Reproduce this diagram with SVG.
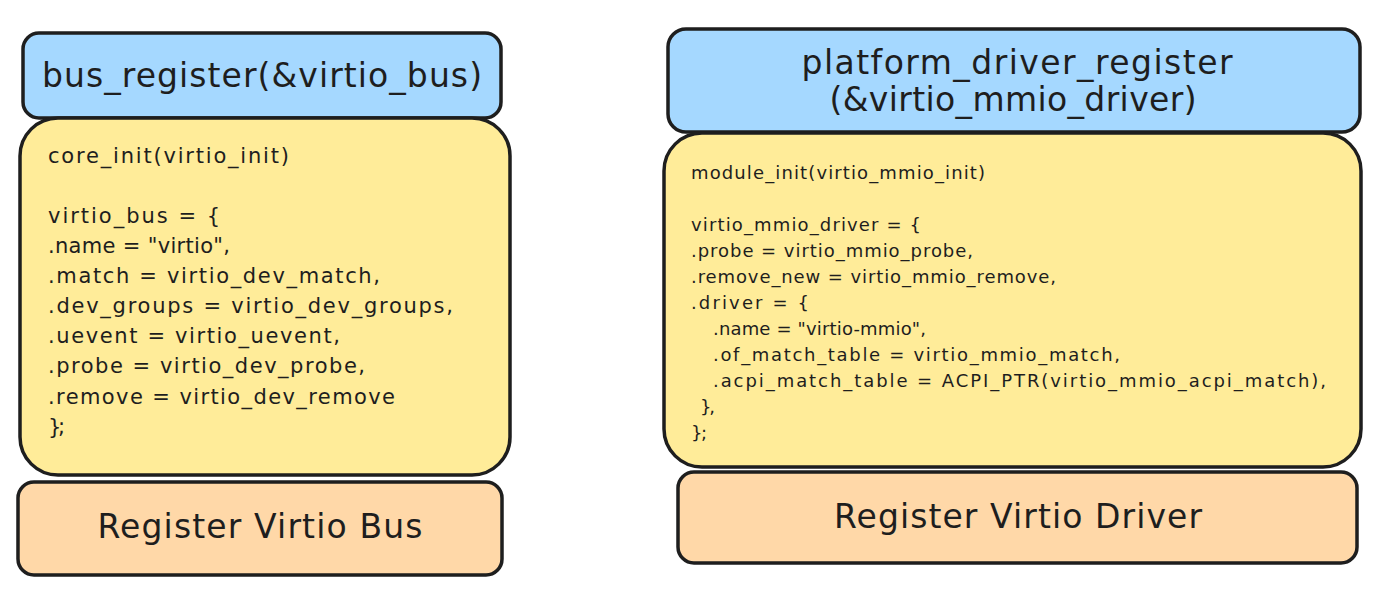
<svg xmlns="http://www.w3.org/2000/svg" width="1380" height="595" viewBox="0 0 1380 595">
<style>
.box{stroke:#1e1e1e;stroke-width:3.5;stroke-linejoin:round}
.blue{fill:#a5d8ff}
.yellow{fill:#ffec99}
.orange{fill:#ffd8a8}
text{font-family:"DejaVu Sans","Liberation Sans",sans-serif;fill:#1e1e1e}
.title{font-size:33px;text-anchor:middle}
.codeL{font-size:21px}
.codeR{font-size:18px}
</style>
<rect width="1380" height="595" fill="#ffffff"/>
<g id="left">
<g id="bus-register">
<rect class="box blue" x="23" y="33" width="478" height="85" rx="16"/>
<text class="title" x="262" y="87" textLength="440">bus_register(&amp;virtio_bus)</text>
</g>
<g id="virtio-bus-code">
<rect class="box yellow" x="20" y="118" width="490" height="357" rx="38"/>
<text class="codeL" x="48" y="163" textLength="241">core_init(virtio_init)</text>
<text class="codeL" x="48" y="223" textLength="172">virtio_bus = {</text>
<text class="codeL" x="48" y="253" textLength="182">.name = "virtio",</text>
<text class="codeL" x="48" y="283" textLength="332">.match = virtio_dev_match,</text>
<text class="codeL" x="48" y="313" textLength="405">.dev_groups = virtio_dev_groups,</text>
<text class="codeL" x="48" y="343" textLength="292">.uevent = virtio_uevent,</text>
<text class="codeL" x="48" y="373" textLength="317">.probe = virtio_dev_probe,</text>
<text class="codeL" x="48" y="404" textLength="347">.remove = virtio_dev_remove</text>
<text class="codeL" x="48" y="434" textLength="17">};</text>
</g>
<g id="register-virtio-bus">
<rect class="box orange" x="18" y="482" width="484" height="93" rx="16"/>
<text class="title" x="260" y="538" textLength="325">Register Virtio Bus</text>
</g>
</g>
<g id="right">
<g id="platform-driver-register">
<rect class="box blue" x="668" y="29" width="692" height="103" rx="18"/>
<text class="title" x="1017" y="74" textLength="431">platform_driver_register</text>
<text class="title" x="1013" y="111" textLength="367">(&amp;virtio_mmio_driver)</text>
</g>
<g id="virtio-mmio-driver-code">
<rect class="box yellow" x="664" y="133" width="697" height="334" rx="38"/>
<text class="codeR" x="691" y="179" textLength="294">module_init(virtio_mmio_init)</text>
<text class="codeR" x="691" y="231" textLength="230">virtio_mmio_driver = {</text>
<text class="codeR" x="691" y="257" textLength="282">.probe = virtio_mmio_probe,</text>
<text class="codeR" x="691" y="283" textLength="365">.remove_new = virtio_mmio_remove,</text>
<text class="codeR" x="691" y="309" textLength="118">.driver  = {</text>
<text class="codeR" x="713" y="335" textLength="213">.name = "virtio-mmio",</text>
<text class="codeR" x="713" y="361" textLength="407">.of_match_table = virtio_mmio_match,</text>
<text class="codeR" x="713" y="387" textLength="613">.acpi_match_table = ACPI_PTR(virtio_mmio_acpi_match),</text>
<text class="codeR" x="700" y="413" textLength="15">},</text>
<text class="codeR" x="691" y="439" textLength="16">};</text>
</g>
<g id="register-virtio-driver">
<rect class="box orange" x="678" y="472" width="679" height="91" rx="16"/>
<text class="title" x="1018" y="528" textLength="368">Register Virtio Driver</text>
</g>
</g>
<g id="connectors"/>
</svg>
